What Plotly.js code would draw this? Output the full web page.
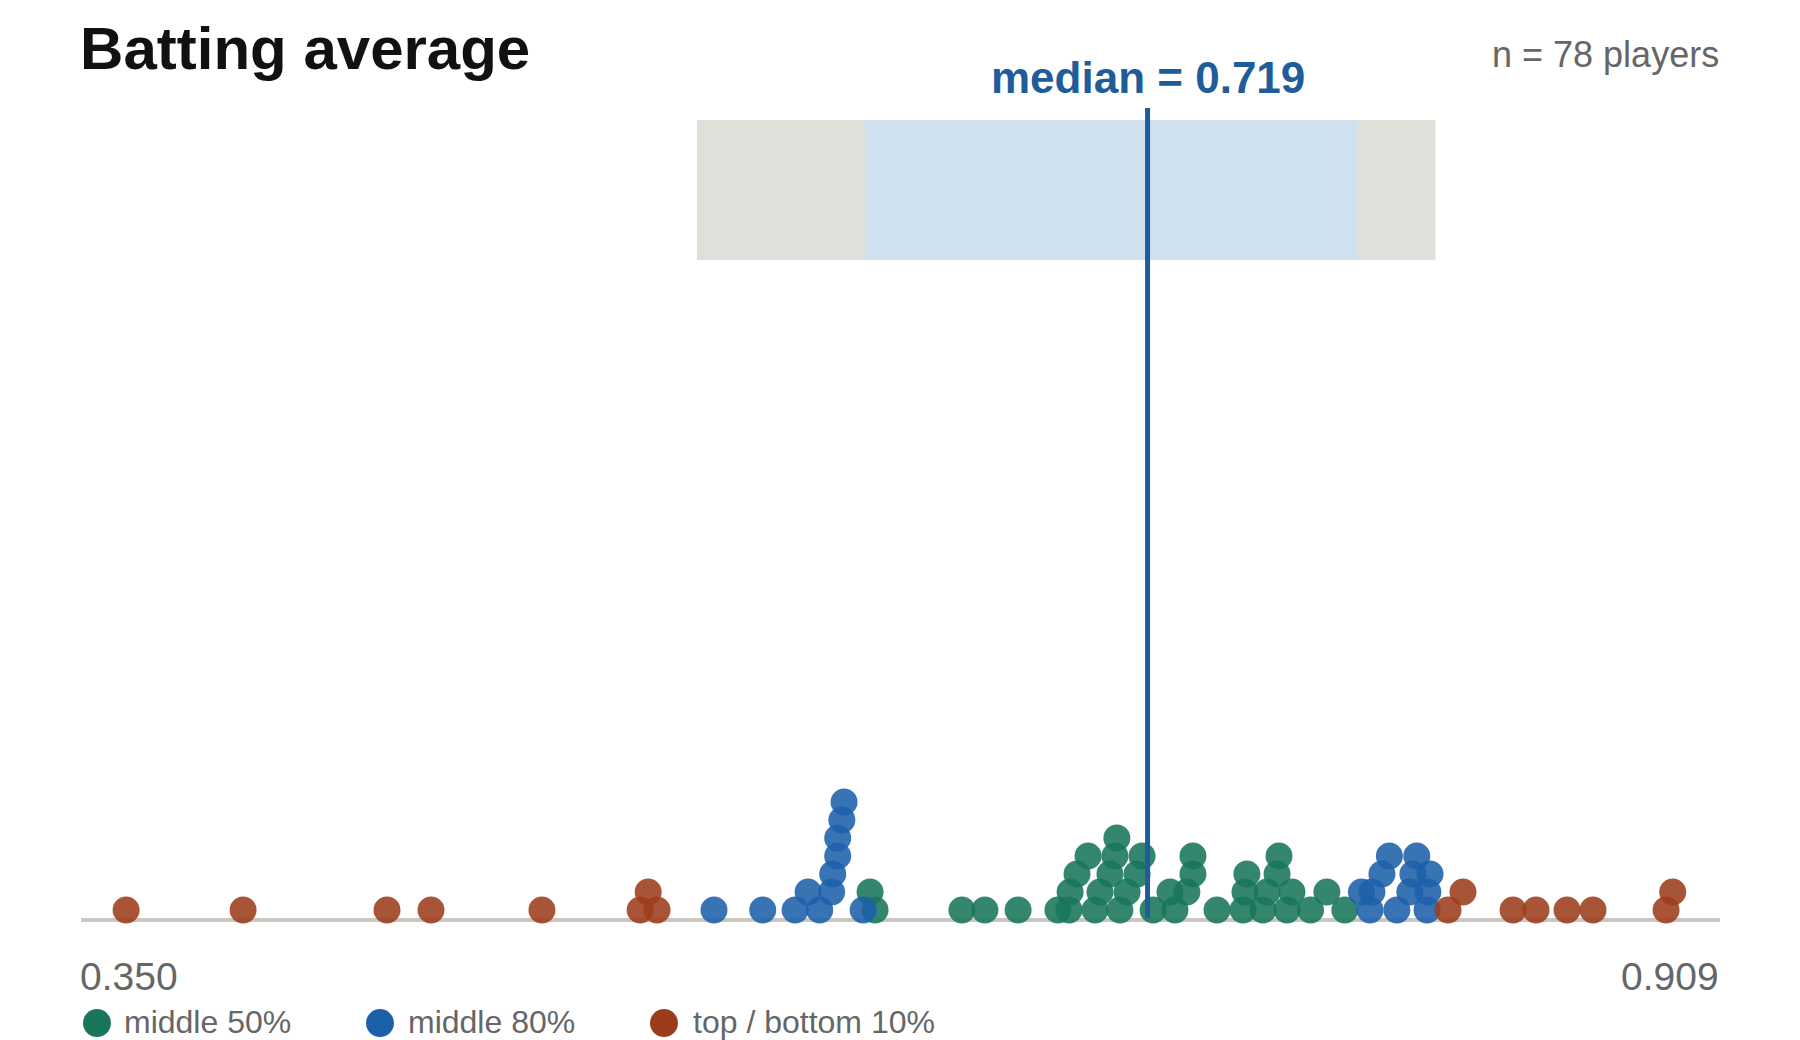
<!DOCTYPE html>
<html>
<head>
<meta charset="utf-8">
<script src="https://cdn.plot.ly/plotly-3.0.1.min.js"></script>
<style>
  html, body { margin: 0; padding: 0; background: #fff; }
  #chart { width: 1800px; height: 1040px; }
</style>
</head>
<body>
<div id="chart"></div>
<script>
const tails = [0.3500, 0.3923, 0.4443, 0.4602, 0.5003, 0.5358, 0.5387, 0.5419,
  0.8278, 0.8332, 0.8513, 0.8596, 0.8708, 0.8802, 0.9066, 0.9090];
const middle80 = [0.5625, 0.5801, 0.5918, 0.5965, 0.6007, 0.6050, 0.6054, 0.6072,
  0.6072, 0.6087, 0.6095, 0.6164, 0.7965, 0.7996, 0.8003, 0.8039, 0.8066, 0.8093,
  0.8140, 0.8151, 0.8165, 0.8202, 0.8205, 0.8213];
const middle50 = [0.6189, 0.6207, 0.6521, 0.6604, 0.6724, 0.6868, 0.6908, 0.6912,
  0.6937, 0.6977, 0.7002, 0.7020, 0.7056, 0.7074, 0.7081, 0.7092, 0.7118, 0.7154,
  0.7172, 0.7212, 0.7273, 0.7291, 0.7334, 0.7356, 0.7356, 0.7443, 0.7537, 0.7544,
  0.7551, 0.7609, 0.7624, 0.7660, 0.7667, 0.7696, 0.7714, 0.7781, 0.7840, 0.7905];

const groupNames = ['middle 50%', 'middle 80%', 'top / bottom 10%'];
const groupColors = ['#18765a', '#1d60aa', '#9c3c1b'];

// stacking bins for the swarm
const binOrigin = 0.63;
const binWidth = 0.00984;

function quantile(sorted, p) {
  var h = (sorted.length - 1) * p;
  var lo = Math.floor(h);
  return sorted[lo] + (h - lo) * ((sorted[lo + 1] !== undefined ? sorted[lo + 1] : sorted[lo]) - sorted[lo]);
}

var groups = [middle50, middle80, tails];
var all = [];
groups.forEach(function (arr, g) {
  arr.forEach(function (v) { all.push({v: v, g: g}); });
});
all.sort(function (a, b) { return a.v - b.v; });

var sortedVals = all.map(function (d) { return d.v; });
var medianValue = quantile(sortedVals, 0.5);
var p10 = quantile(sortedVals, 0.10), p25 = quantile(sortedVals, 0.25);
var p75 = quantile(sortedVals, 0.75), p90 = quantile(sortedVals, 0.90);
var minVal = sortedVals[0], maxVal = sortedVals[sortedVals.length - 1];

var binCount = {};
var xs = [[], [], []], ys = [[], [], []];
all.forEach(function (d) {
  var b = Math.floor((d.v - binOrigin) / binWidth);
  var lvl = binCount[b] || 0;
  binCount[b] = lvl + 1;
  xs[d.g].push(d.v);
  ys[d.g].push(lvl);
});

var data = groups.map(function (arr, g) {
  return {
    x: xs[g],
    y: ys[g],
    type: 'scatter',
    mode: 'markers',
    name: groupNames[g],
    cliponaxis: false,
    hoverinfo: 'x',
    marker: {
      size: 27,
      color: groupColors[g],
      opacity: 0.88,
      line: {width: 0}
    }
  };
});

var gray = '#666666';
var fontFam = '"Liberation Sans", Arial, sans-serif';

var shapes = [
  // axis baseline
  {type: 'line', xref: 'paper', yref: 'paper', x0: 0, x1: 1, y0: -0.0024, y1: -0.0024,
   line: {color: '#c9c7bf', width: 4}, layer: 'below'},
  {type: 'rect', xref: 'x', yref: 'paper', x0: p10, x1: p90, y0: 0.8044, y1: 0.9756,
   fillcolor: '#e0e0da', line: {width: 0}, layer: 'below'},
  {type: 'rect', xref: 'x', yref: 'paper', x0: p25, x1: p75, y0: 0.8044, y1: 0.9756,
   fillcolor: '#cfe0ee', line: {width: 0}, layer: 'below'},
  {type: 'line', xref: 'x', yref: 'paper', x0: medianValue, x1: medianValue, y0: 0, y1: 0.9902,
   line: {color: '#1f5c9a', width: 5}, layer: 'above'}
];

var annotations = [
  {text: 'median = ' + medianValue.toFixed(3), xref: 'x', yref: 'paper', x: medianValue, y: 1.0281,
   xanchor: 'center', yanchor: 'middle', xshift: 0, showarrow: false,
   font: {family: fontFam, size: 44, color: '#1f5c9a', weight: 700}},
  {text: 'n = ' + sortedVals.length + ' players', xref: 'paper', yref: 'paper', x: 1.0004, y: 1.056,
   xanchor: 'right', yanchor: 'middle', showarrow: false,
   font: {family: fontFam, size: 36, color: gray}},
  {text: minVal.toFixed(3), xref: 'paper', yref: 'paper', x: 0, y: -0.0719,
   xanchor: 'left', yanchor: 'middle', xshift: -3, showarrow: false,
   font: {family: fontFam, size: 39, color: gray}},
  {text: maxVal.toFixed(3), xref: 'paper', yref: 'paper', x: 1, y: -0.0719,
   xanchor: 'right', yanchor: 'middle', xshift: 1, showarrow: false,
   font: {family: fontFam, size: 39, color: gray}}
];

// hand-made legend under the axis
var legendDotX = [0.00976, 0.18243, 0.35570];
var legendTextX = [0.02532, 0.19847, 0.37210];
groupNames.forEach(function (name, g) {
  shapes.push({type: 'circle', xref: 'paper', yref: 'paper',
    xsizemode: 'pixel', ysizemode: 'pixel', xanchor: legendDotX[g], yanchor: -0.1284,
    x0: -14, x1: 14, y0: -14, y1: 14,
    fillcolor: groupColors[g], line: {width: 0}});
  annotations.push({text: name, xref: 'paper', yref: 'paper', x: legendTextX[g], y: -0.1271,
    xanchor: 'left', yanchor: 'middle', showarrow: false,
    font: {family: fontFam, size: 32, color: gray}});
});

var layout = {
  width: 1800,
  height: 1040,
  margin: {l: 81, r: 80, t: 100, b: 122},
  paper_bgcolor: '#ffffff',
  plot_bgcolor: '#ffffff',
  showlegend: false,
  font: {family: fontFam, color: gray},
  title: {
    text: 'Batting average',
    font: {family: fontFam, size: 60, color: '#111111', weight: 700},
    xref: 'container', x: 0.0445, xanchor: 'left',
    yref: 'container', y: 0.954, yanchor: 'middle'
  },
  xaxis: {
    range: [0.3337, 0.9261],
    showgrid: false, zeroline: false, showticklabels: false, ticks: '',
    showline: false
  },
  yaxis: {
    range: [-0.444, 45.0],
    visible: false, showgrid: false, zeroline: false
  },
  shapes: shapes,
  annotations: annotations
};

Plotly.newPlot('chart', data, layout, {displayModeBar: false, staticPlot: true});
</script>
</body>
</html>
